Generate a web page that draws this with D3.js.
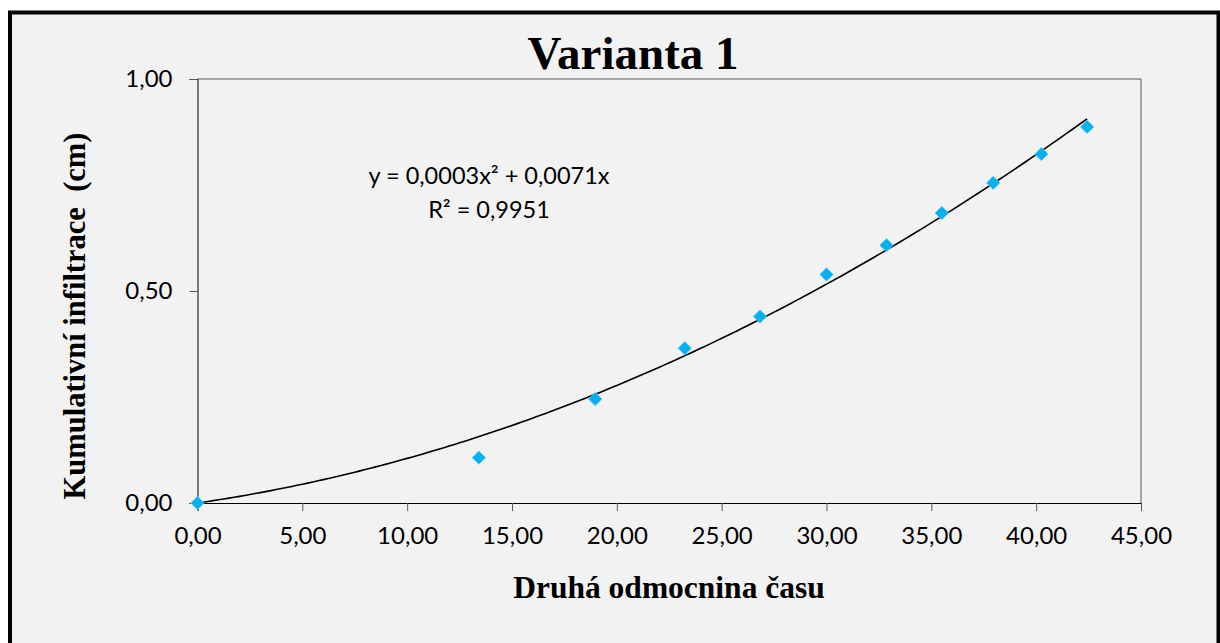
<!DOCTYPE html>
<html>
<head>
<meta charset="utf-8">
<script src="https://cdn.jsdelivr.net/npm/d3@7"></script>
<style>
  body { margin: 0; background: #fff; }
  svg { display: block; }
</style>
</head>
<body>
<script>
'use strict';

// druha odmocnina casu (x) a kumulativni infiltrace v cm (y)
var sqrtTime = [0.00, 13.42, 18.97, 23.24, 26.83, 30.00, 32.86, 35.50, 37.95, 40.25, 42.43];
var infiltration = [0.000, 0.107, 0.245, 0.365, 0.440, 0.539, 0.608, 0.684, 0.755, 0.823, 0.887];

var xTicks = [0, 5, 10, 15, 20, 25, 30, 35, 40, 45];
var yTicks = [0, 0.5, 1];

var chartTitle = 'Varianta 1';
var xTitle = 'Druhá odmocnina času';
var yTitle = 'Kumulativní infiltrace  (cm)';
var eqLines = ['y = 0,0003x² + 0,0071x', 'R² = 0,9951'];

var width = 1220,
    height = 643;

var comma = function (d) { return d3.format('.2f')(d).replace('.', ','); };

var svg = d3.select('body').append('svg')
    .attr('width', width)
    .attr('height', height);

// ramecek grafu
svg.append('rect')
    .attr('x', 10)
    .attr('y', 12.5)
    .attr('width', 1208.5)
    .attr('height', 700)
    .attr('fill', '#f2f2f2')
    .attr('stroke', '#000')
    .attr('stroke-width', 4);

var x = d3.scaleLinear().domain([0, 45]).range([197.5, 1141]);
var y = d3.scaleLinear().domain([0, 1]).range([503, 79]);

// okraj oblasti grafu (nahore a vpravo)
svg.append('path')
    .attr('d', 'M' + x(0) + ',' + y(1) + 'H' + x(45) + 'V' + y(0))
    .attr('fill', 'none')
    .attr('stroke', '#595959')
    .attr('stroke-width', 1);

var xAxis = svg.append('g')
    .attr('transform', 'translate(0,' + y(0) + ')')
    .call(d3.axisBottom(x)
        .tickValues(xTicks)
        .tickFormat(comma)
        .tickSizeOuter(0)
        .tickSize(8)
        .tickPadding(16));

var yAxis = svg.append('g')
    .attr('transform', 'translate(' + x(0) + ',0)')
    .call(d3.axisLeft(y)
        .tickValues(yTicks)
        .tickFormat(comma)
        .tickSizeOuter(0)
        .tickSize(8)
        .tickPadding(17));

svg.selectAll('.domain').attr('stroke', '#000');
svg.selectAll('.tick line').attr('stroke', '#595959');
svg.selectAll('.tick text')
    .attr('fill', '#000')
    .style('font-family', 'Lato, "Open Sans", sans-serif')
    .style('font-size', '24px');

// polynomicky trend 2. radu pres pocatek (nejmensi ctverce)
var s4 = 0, s3 = 0, s2 = 0, s2y = 0, s1y = 0;
sqrtTime.forEach(function (xi, i) {
  var yi = infiltration[i];
  s4 += xi * xi * xi * xi;
  s3 += xi * xi * xi;
  s2 += xi * xi;
  s2y += xi * xi * yi;
  s1y += xi * yi;
});
var det = s4 * s2 - s3 * s3;
var a = (s2y * s2 - s3 * s1y) / det;
var b = (s4 * s1y - s3 * s2y) / det;

var xMax = d3.max(sqrtTime);
var trend = d3.range(0, xMax, 0.25).concat([xMax]).map(function (t) {
  return [t, a * t * t + b * t];
});

svg.append('path')
    .datum(trend)
    .attr('fill', 'none')
    .attr('stroke', '#000')
    .attr('stroke-width', 1.6)
    .attr('d', d3.line()
        .x(function (d) { return x(d[0]); })
        .y(function (d) { return y(d[1]); }));

// body
svg.append('g').selectAll('path')
    .data(sqrtTime)
    .join('path')
    .attr('transform', function (d, i) {
      return 'translate(' + x(d) + ',' + y(infiltration[i]) + ') rotate(45)';
    })
    .attr('d', d3.symbol().type(d3.symbolSquare).size(90))
    .attr('fill', '#00b0f0')
    .attr('stroke', '#6ccbf0')
    .attr('stroke-width', 0.8);

// rovnice trendu
svg.append('g').selectAll('text')
    .data(eqLines)
    .join('text')
    .attr('x', 489)
    .attr('y', function (d, i) { return 184 + i * 34; })
    .attr('text-anchor', 'middle')
    .style('font-family', 'Lato, "Open Sans", sans-serif')
    .style('font-size', '23.5px')
    .text(function (d) { return d; });

// nadpisy
svg.append('text')
    .attr('x', 633)
    .attr('y', 69)
    .attr('text-anchor', 'middle')
    .style('font-family', '"Liberation Serif", "Times New Roman", serif')
    .style('font-weight', 'bold')
    .style('font-size', '47px')
    .text(chartTitle);

svg.append('text')
    .attr('x', 669)
    .attr('y', 598)
    .attr('text-anchor', 'middle')
    .style('font-family', '"Liberation Serif", "Times New Roman", serif')
    .style('font-weight', 'bold')
    .style('font-size', '31.5px')
    .text(xTitle);

svg.append('text')
    .attr('transform', 'translate(85,316) rotate(-90)')
    .attr('text-anchor', 'middle')
    .style('font-family', '"Liberation Serif", "Times New Roman", serif')
    .style('font-weight', 'bold')
    .style('font-size', '30.5px')
    .style('white-space', 'pre')
    .text(yTitle);
</script>
</body>
</html>
